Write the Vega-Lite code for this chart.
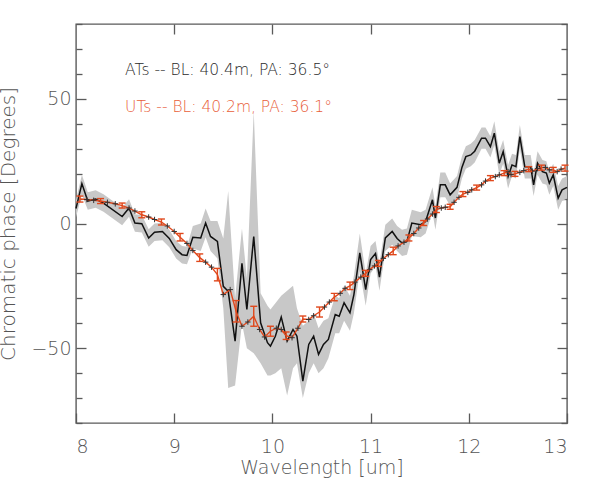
{
  "$schema": "https://vega.github.io/schema/vega-lite/v6.json",
  "width": 491,
  "height": 399,
  "autosize": {"type": "none"},
  "padding": {"left": 76, "top": 24, "right": 31, "bottom": 75},
  "config": {
    "view": {"stroke": "#5a5a5a", "strokeWidth": 1.4},
    "font": "DejaVu Sans",
    "axis": {"domain": false, "grid": false, "tickColor": "#5a5a5a", "tickWidth": 1.3, "labelColor": "#555555", "titleColor": "#555555", "labelFont": "DejaVu Sans", "titleFont": "DejaVu Sans", "labelFontWeight": 200, "titleFontWeight": 200, "labelFontSize": 19, "titleFontSize": 19}
  },
  "datasets": {
    "at": [
      {"w": 8.00, "v": 6.0, "lo": 2.5, "hi": 9.5},
      {"w": 8.06, "v": 16.0, "lo": 11.5, "hi": 19.5},
      {"w": 8.12, "v": 9.0, "lo": 5.5, "hi": 12.5},
      {"w": 8.20, "v": 9.8, "lo": 6.3, "hi": 13.3},
      {"w": 8.28, "v": 8.2, "lo": 4.7, "hi": 11.7},
      {"w": 8.47, "v": 2.8, "lo": -0.7, "hi": 6.3},
      {"w": 8.54, "v": 6.2, "lo": 2.7, "hi": 9.7},
      {"w": 8.60, "v": 0.2, "lo": -3.3, "hi": 3.7},
      {"w": 8.67, "v": -0.1, "lo": -3.6, "hi": 3.4},
      {"w": 8.74, "v": -5.8, "lo": -9.3, "hi": -2.3},
      {"w": 8.80, "v": -3.5, "lo": -7.0, "hi": 0.0},
      {"w": 8.88, "v": -3.2, "lo": -6.7, "hi": 0.3},
      {"w": 8.95, "v": -6.0, "lo": -9.5, "hi": -2.5},
      {"w": 9.02, "v": -10.5, "lo": -14.0, "hi": -7.0},
      {"w": 9.08, "v": -12.5, "lo": -16.0, "hi": -9.0},
      {"w": 9.13, "v": -12.8, "lo": -16.3, "hi": -9.3},
      {"w": 9.19, "v": -5.5, "lo": -10.0, "hi": -1.0},
      {"w": 9.27, "v": -5.8, "lo": -11.0, "hi": 0.0},
      {"w": 9.32, "v": 0.2, "lo": -5.5, "hi": 6.0},
      {"w": 9.37, "v": -5.2, "lo": -11.0, "hi": 1.0},
      {"w": 9.44, "v": -7.2, "lo": -14.0, "hi": 1.0},
      {"w": 9.50, "v": -25.2, "lo": -34.0, "hi": -6.0},
      {"w": 9.55, "v": -27.2, "lo": -66.0, "hi": 13.0},
      {"w": 9.62, "v": -47.2, "lo": -65.0, "hi": -30.0},
      {"w": 9.69, "v": -16.0, "lo": -40.0, "hi": -2.0},
      {"w": 9.74, "v": -34.5, "lo": -50.0, "hi": -22.0},
      {"w": 9.81, "v": -5.2, "lo": -52.0, "hi": 45.0},
      {"w": 9.88, "v": -39.8, "lo": -56.0, "hi": -28.0},
      {"w": 9.95, "v": -47.8, "lo": -61.0, "hi": -33.0},
      {"w": 9.98, "v": -49.2, "lo": -61.0, "hi": -34.5},
      {"w": 10.03, "v": -45.2, "lo": -60.0, "hi": -32.0},
      {"w": 10.09, "v": -37.5, "lo": -58.0, "hi": -29.0},
      {"w": 10.15, "v": -47.2, "lo": -69.0, "hi": -27.0},
      {"w": 10.21, "v": -42.5, "lo": -58.0, "hi": -25.0},
      {"w": 10.25, "v": -45.2, "lo": -56.0, "hi": -34.0},
      {"w": 10.31, "v": -63.2, "lo": -70.0, "hi": -41.0},
      {"w": 10.37, "v": -48.5, "lo": -60.0, "hi": -39.0},
      {"w": 10.42, "v": -45.2, "lo": -56.0, "hi": -36.0},
      {"w": 10.47, "v": -52.5, "lo": -60.0, "hi": -42.0},
      {"w": 10.52, "v": -48.5, "lo": -58.0, "hi": -39.0},
      {"w": 10.57, "v": -46.5, "lo": -54.0, "hi": -38.0},
      {"w": 10.64, "v": -36.5, "lo": -44.0, "hi": -29.0},
      {"w": 10.68, "v": -37.2, "lo": -44.0, "hi": -30.0},
      {"w": 10.73, "v": -31.8, "lo": -39.0, "hi": -25.0},
      {"w": 10.79, "v": -35.8, "lo": -43.0, "hi": -29.0},
      {"w": 10.83, "v": -28.5, "lo": -36.0, "hi": -21.0},
      {"w": 10.89, "v": -11.8, "lo": -19.0, "hi": -4.0},
      {"w": 10.95, "v": -26.5, "lo": -33.0, "hi": -20.0},
      {"w": 11.00, "v": -14.5, "lo": -20.0, "hi": -9.0},
      {"w": 11.05, "v": -12.0, "lo": -17.0, "hi": -7.0},
      {"w": 11.09, "v": -21.5, "lo": -27.0, "hi": -16.0},
      {"w": 11.15, "v": -5.8, "lo": -11.0, "hi": -0.5},
      {"w": 11.22, "v": -3.2, "lo": -8.5, "hi": 2.0},
      {"w": 11.27, "v": -6.0, "lo": -11.0, "hi": -1.0},
      {"w": 11.32, "v": -7.8, "lo": -13.0, "hi": -2.5},
      {"w": 11.37, "v": -7.2, "lo": -12.5, "hi": -2.0},
      {"w": 11.42, "v": 0.2, "lo": -5.0, "hi": 5.5},
      {"w": 11.51, "v": -0.5, "lo": -5.5, "hi": 4.5},
      {"w": 11.56, "v": 0.8, "lo": -4.0, "hi": 5.5},
      {"w": 11.63, "v": 9.5, "lo": 4.5, "hi": 14.5},
      {"w": 11.66, "v": 2.2, "lo": -2.5, "hi": 7.0},
      {"w": 11.71, "v": 15.5, "lo": 10.5, "hi": 20.5},
      {"w": 11.76, "v": 15.5, "lo": 10.5, "hi": 20.5},
      {"w": 11.81, "v": 11.5, "lo": 7.0, "hi": 16.0},
      {"w": 11.88, "v": 14.5, "lo": 10.0, "hi": 19.0},
      {"w": 11.93, "v": 22.5, "lo": 18.0, "hi": 27.0},
      {"w": 11.97, "v": 26.8, "lo": 22.0, "hi": 31.0},
      {"w": 12.02, "v": 27.5, "lo": 23.0, "hi": 32.0},
      {"w": 12.06, "v": 29.0, "lo": 24.5, "hi": 33.5},
      {"w": 12.13, "v": 34.2, "lo": 30.0, "hi": 38.5},
      {"w": 12.17, "v": 34.2, "lo": 30.0, "hi": 38.5},
      {"w": 12.22, "v": 30.8, "lo": 26.5, "hi": 35.0},
      {"w": 12.26, "v": 36.2, "lo": 31.5, "hi": 41.0},
      {"w": 12.31, "v": 24.2, "lo": 19.5, "hi": 29.0},
      {"w": 12.35, "v": 28.8, "lo": 24.0, "hi": 33.5},
      {"w": 12.40, "v": 18.8, "lo": 14.0, "hi": 23.5},
      {"w": 12.44, "v": 23.5, "lo": 19.0, "hi": 28.0},
      {"w": 12.48, "v": 22.8, "lo": 18.0, "hi": 27.5},
      {"w": 12.52, "v": 34.8, "lo": 30.0, "hi": 39.5},
      {"w": 12.57, "v": 22.8, "lo": 18.0, "hi": 27.5},
      {"w": 12.63, "v": 22.8, "lo": 18.0, "hi": 27.5},
      {"w": 12.66, "v": 15.5, "lo": 11.0, "hi": 20.0},
      {"w": 12.70, "v": 24.2, "lo": 19.5, "hi": 29.0},
      {"w": 12.75, "v": 20.8, "lo": 16.0, "hi": 25.5},
      {"w": 12.79, "v": 20.2, "lo": 15.5, "hi": 25.0},
      {"w": 12.82, "v": 16.2, "lo": 11.5, "hi": 21.0},
      {"w": 12.86, "v": 19.5, "lo": 15.0, "hi": 24.0},
      {"w": 12.91, "v": 10.2, "lo": 5.5, "hi": 15.0},
      {"w": 12.95, "v": 13.5, "lo": 9.0, "hi": 18.0},
      {"w": 13.00, "v": 14.5, "lo": 10.0, "hi": 19.0}
    ],
    "ut": [
      {"w": 8.04, "v": 9.8, "lo": 8.6, "hi": 11.0, "kind": "bar"},
      {"w": 8.11, "v": 9.6, "kind": "plus"},
      {"w": 8.18, "v": 9.3, "kind": "plus"},
      {"w": 8.25, "v": 9.0, "lo": 8.0, "hi": 10.0, "kind": "bar"},
      {"w": 8.32, "v": 8.5, "kind": "plus"},
      {"w": 8.40, "v": 7.9, "kind": "plus"},
      {"w": 8.47, "v": 7.2, "lo": 6.2, "hi": 8.2, "kind": "bar"},
      {"w": 8.54, "v": 6.2, "kind": "plus"},
      {"w": 8.60, "v": 5.0, "kind": "plus"},
      {"w": 8.67, "v": 3.5, "lo": 2.3, "hi": 4.7, "kind": "bar"},
      {"w": 8.74, "v": 2.6, "kind": "plus"},
      {"w": 8.80, "v": 1.6, "kind": "plus"},
      {"w": 8.87, "v": 0.6, "lo": -0.6, "hi": 1.8, "kind": "bar"},
      {"w": 8.93, "v": -1.0, "kind": "plus"},
      {"w": 9.00, "v": -3.2, "kind": "plus"},
      {"w": 9.06, "v": -5.5, "lo": -7.0, "hi": -4.0, "kind": "bar"},
      {"w": 9.13, "v": -8.0, "kind": "plus"},
      {"w": 9.19, "v": -10.8, "kind": "plus"},
      {"w": 9.26, "v": -13.7, "lo": -15.2, "hi": -12.2, "kind": "bar"},
      {"w": 9.32, "v": -15.5, "kind": "plus"},
      {"w": 9.38, "v": -17.5, "kind": "plus"},
      {"w": 9.44, "v": -20.5, "lo": -23.0, "hi": -18.0, "kind": "bar"},
      {"w": 9.50, "v": -28.5, "kind": "plus"},
      {"w": 9.57, "v": -26.5, "kind": "plus"},
      {"w": 9.63, "v": -35.2, "lo": -39.5, "hi": -30.9, "kind": "bar"},
      {"w": 9.69, "v": -41.2, "kind": "plus"},
      {"w": 9.75, "v": -39.5, "kind": "plus"},
      {"w": 9.81, "v": -37.2, "lo": -41.2, "hi": -33.2, "kind": "bar"},
      {"w": 9.87, "v": -42.5, "kind": "plus"},
      {"w": 9.92, "v": -45.5, "kind": "plus"},
      {"w": 9.98, "v": -43.2, "lo": -45.2, "hi": -41.2, "kind": "bar"},
      {"w": 10.04, "v": -42.0, "kind": "plus"},
      {"w": 10.09, "v": -42.5, "kind": "plus"},
      {"w": 10.14, "v": -45.0, "lo": -46.5, "hi": -43.5, "kind": "bar"},
      {"w": 10.20, "v": -45.8, "kind": "plus"},
      {"w": 10.26, "v": -42.0, "kind": "plus"},
      {"w": 10.31, "v": -38.3, "lo": -39.5, "hi": -37.1, "kind": "bar"},
      {"w": 10.37, "v": -38.5, "kind": "plus"},
      {"w": 10.42, "v": -37.0, "kind": "plus"},
      {"w": 10.48, "v": -35.5, "lo": -37.5, "hi": -33.5, "kind": "bar"},
      {"w": 10.53, "v": -33.5, "kind": "plus"},
      {"w": 10.58, "v": -31.5, "kind": "plus"},
      {"w": 10.63, "v": -29.5, "lo": -31.0, "hi": -28.0, "kind": "bar"},
      {"w": 10.69, "v": -28.0, "kind": "plus"},
      {"w": 10.74, "v": -26.0, "kind": "plus"},
      {"w": 10.79, "v": -25.0, "lo": -26.5, "hi": -23.5, "kind": "bar"},
      {"w": 10.84, "v": -23.5, "kind": "plus"},
      {"w": 10.90, "v": -21.5, "kind": "plus"},
      {"w": 10.95, "v": -20.0, "lo": -21.2, "hi": -18.8, "kind": "bar"},
      {"w": 10.99, "v": -18.5, "kind": "plus"},
      {"w": 11.04, "v": -17.0, "kind": "plus"},
      {"w": 11.08, "v": -16.0, "lo": -17.2, "hi": -14.8, "kind": "bar"},
      {"w": 11.13, "v": -14.0, "kind": "plus"},
      {"w": 11.18, "v": -12.5, "kind": "plus"},
      {"w": 11.23, "v": -11.0, "lo": -12.5, "hi": -9.5, "kind": "bar"},
      {"w": 11.28, "v": -9.0, "kind": "plus"},
      {"w": 11.34, "v": -7.5, "kind": "plus"},
      {"w": 11.39, "v": -5.8, "lo": -7.0, "hi": -4.6, "kind": "bar"},
      {"w": 11.44, "v": -4.0, "kind": "plus"},
      {"w": 11.49, "v": -1.8, "kind": "plus"},
      {"w": 11.54, "v": 0.2, "lo": -0.8, "hi": 1.2, "kind": "bar"},
      {"w": 11.58, "v": 1.8, "kind": "plus"},
      {"w": 11.63, "v": 3.8, "kind": "plus"},
      {"w": 11.67, "v": 5.6, "lo": 4.4, "hi": 6.8, "kind": "bar"},
      {"w": 11.72, "v": 6.2, "kind": "plus"},
      {"w": 11.76, "v": 6.5, "kind": "plus"},
      {"w": 11.81, "v": 6.7, "lo": 5.7, "hi": 7.7, "kind": "bar"},
      {"w": 11.85, "v": 8.5, "kind": "plus"},
      {"w": 11.90, "v": 10.5, "kind": "plus"},
      {"w": 11.94, "v": 11.8, "lo": 10.8, "hi": 12.8, "kind": "bar"},
      {"w": 11.99, "v": 12.5, "kind": "plus"},
      {"w": 12.03, "v": 13.5, "kind": "plus"},
      {"w": 12.08, "v": 14.4, "lo": 13.4, "hi": 15.4, "kind": "bar"},
      {"w": 12.13, "v": 15.5, "kind": "plus"},
      {"w": 12.17, "v": 17.0, "kind": "plus"},
      {"w": 12.22, "v": 18.2, "lo": 17.2, "hi": 19.2, "kind": "bar"},
      {"w": 12.27, "v": 18.8, "kind": "plus"},
      {"w": 12.31, "v": 19.5, "kind": "plus"},
      {"w": 12.36, "v": 20.2, "lo": 19.2, "hi": 21.2, "kind": "bar"},
      {"w": 12.40, "v": 20.8, "kind": "plus"},
      {"w": 12.43, "v": 19.6, "kind": "plus"},
      {"w": 12.47, "v": 19.9, "lo": 18.9, "hi": 20.9, "kind": "bar"},
      {"w": 12.52, "v": 20.5, "kind": "plus"},
      {"w": 12.56, "v": 21.2, "kind": "plus"},
      {"w": 12.61, "v": 21.8, "lo": 20.8, "hi": 22.8, "kind": "bar"},
      {"w": 12.65, "v": 21.0, "kind": "plus"},
      {"w": 12.70, "v": 22.0, "kind": "plus"},
      {"w": 12.74, "v": 22.4, "lo": 21.4, "hi": 23.4, "kind": "bar"},
      {"w": 12.78, "v": 22.5, "kind": "plus"},
      {"w": 12.82, "v": 21.5, "kind": "plus"},
      {"w": 12.86, "v": 21.5, "lo": 20.5, "hi": 22.5, "kind": "bar"},
      {"w": 12.90, "v": 20.8, "kind": "plus"},
      {"w": 12.94, "v": 21.8, "kind": "plus"},
      {"w": 12.98, "v": 22.2, "lo": 21.0, "hi": 23.4, "kind": "bar"}
    ],
    "notes": [
      {"w": 8.5, "v": 61.5, "label": "ATs -- BL: 40.4m, PA: 36.5°", "grp": "AT"},
      {"w": 8.5, "v": 46.8, "label": "UTs -- BL: 40.2m, PA: 36.1°", "grp": "UT"}
    ]
  },
  "resolve": {"axis": {"x": "independent", "y": "independent"}},
  "layer": [
    {
      "data": {"name": "at"},
      "mark": {"type": "area", "color": "#c8c8c8", "opacity": 1},
      "encoding": {
        "x": {"field": "w", "type": "quantitative", "scale": {"domain": [8, 13], "nice": false, "zero": false},
          "axis": {"orient": "bottom", "values": [8, 9, 10, 11, 12, 13], "tickSize": -10, "labelPadding": 24, "title": "Wavelength [um]", "titlePadding": 2}},
        "y": {"field": "lo", "type": "quantitative", "scale": {"domain": [-80, 80], "nice": false, "zero": false},
          "axis": {"orient": "left", "values": [-80, -70, -60, -50, -40, -30, -20, -10, 0, 10, 20, 30, 40, 50, 60, 70, 80],
            "tickSize": {"condition": {"test": "datum.value % 50 === 0", "value": -10}, "value": -6},
            "labelExpr": "datum.value % 50 === 0 ? datum.label : ''", "labelPadding": 15,
            "title": "Chromatic phase [Degrees]", "titleFontSize": 20, "titleX": -62, "titleY": 199.5, "titleAngle": 270, "titleAlign": "center", "titleBaseline": "alphabetic"}},
        "y2": {"field": "hi"}
      }
    },
    {
      "data": {"name": "at"},
      "mark": {"type": "line", "color": "#111111", "strokeWidth": 1.5},
      "encoding": {
        "x": {"field": "w", "type": "quantitative", "scale": {"domain": [8, 13]},
          "axis": {"orient": "top", "values": [9, 10, 11, 12], "tickSize": -10, "labels": false, "title": null}},
        "y": {"field": "v", "type": "quantitative", "scale": {"domain": [-80, 80]},
          "axis": {"orient": "right", "values": [-80, -70, -60, -50, -40, -30, -20, -10, 0, 10, 20, 30, 40, 50, 60, 70, 80],
            "tickSize": {"condition": {"test": "datum.value % 50 === 0", "value": -10}, "value": -6},
            "labels": false, "title": null}}
      }
    },
    {
      "data": {"name": "ut"},
      "mark": {"type": "line", "color": "#e0481c", "strokeWidth": 1.4},
      "encoding": {
        "x": {"field": "w", "type": "quantitative", "axis": null},
        "y": {"field": "v", "type": "quantitative", "axis": null}
      }
    },
    {
      "data": {"name": "ut"},
      "transform": [{"filter": "datum.kind === 'plus'"}],
      "mark": {"type": "point", "shape": "M-1,0H1M0,-1V1", "filled": false, "stroke": "#333333", "strokeWidth": 1, "size": 30, "opacity": 1},
      "encoding": {
        "x": {"field": "w", "type": "quantitative", "axis": null},
        "y": {"field": "v", "type": "quantitative", "axis": null}
      }
    },
    {
      "data": {"name": "ut"},
      "transform": [{"filter": "datum.kind === 'bar'"}],
      "mark": {"type": "rule", "color": "#e0481c", "strokeWidth": 1.4},
      "encoding": {
        "x": {"field": "w", "type": "quantitative", "axis": null},
        "y": {"field": "lo", "type": "quantitative", "axis": null},
        "y2": {"field": "hi"}
      }
    },
    {
      "data": {"name": "ut"},
      "transform": [{"filter": "datum.kind === 'bar'"}],
      "mark": {"type": "tick", "orient": "horizontal", "color": "#e0481c", "thickness": 1.4, "size": 7, "opacity": 1},
      "encoding": {
        "x": {"field": "w", "type": "quantitative", "axis": null},
        "y": {"field": "lo", "type": "quantitative", "axis": null}
      }
    },
    {
      "data": {"name": "ut"},
      "transform": [{"filter": "datum.kind === 'bar'"}],
      "mark": {"type": "tick", "orient": "horizontal", "color": "#e0481c", "thickness": 1.4, "size": 7, "opacity": 1},
      "encoding": {
        "x": {"field": "w", "type": "quantitative", "axis": null},
        "y": {"field": "hi", "type": "quantitative", "axis": null}
      }
    },
    {
      "data": {"name": "notes"},
      "mark": {"type": "text", "align": "left", "baseline": "middle", "font": "DejaVu Sans", "fontWeight": 200, "fontSize": 15.5},
      "encoding": {
        "x": {"field": "w", "type": "quantitative", "axis": null},
        "y": {"field": "v", "type": "quantitative", "axis": null},
        "text": {"field": "label"},
        "color": {"field": "grp", "type": "nominal", "scale": {"domain": ["AT", "UT"], "range": ["#2a2a2a", "#e8603a"]}, "legend": null}
      }
    }
  ]
}
